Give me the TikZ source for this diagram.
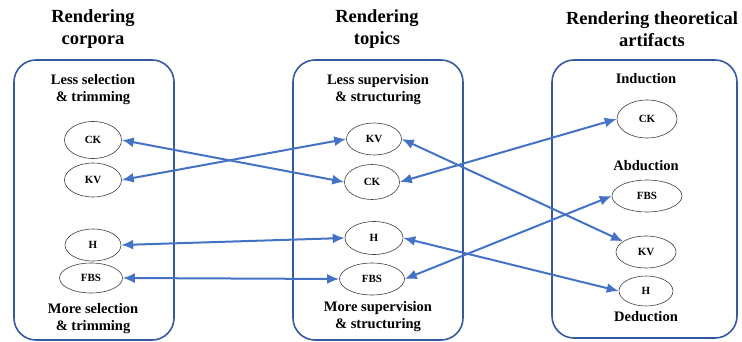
\documentclass[tikz,border=0pt]{standalone}
\usepackage{fontspec}
\setmainfont{Liberation Serif}
\usetikzlibrary{arrows.meta,shapes.geometric}
\definecolor{framecol}{HTML}{3559A0}
\definecolor{linkcol}{HTML}{4472C4}
\tikzset{
  panel/.style={draw=framecol, line width=1.6pt, rounded corners=22pt},
  heading/.style={font=\fontsize{18.5}{21.5}\selectfont\bfseries, align=center, inner sep=0pt},
  band/.style={font=\fontsize{14.5}{17}\selectfont\bfseries, align=center, inner sep=0pt},
  item/.style={ellipse, draw=black!75, line width=0.6pt, fill=white, inner sep=0pt,
               font=\fontsize{11}{13}\selectfont\bfseries},
  link/.style={draw=linkcol, line width=2pt, {Latex[length=12pt,width=10pt]}-{Latex[length=12pt,width=10pt]}}
}
\begin{document}
\begin{tikzpicture}[x=1pt, y=-1pt]
\useasboundingbox (0,0) rectangle (742,342);

% three panels
\draw[panel] (14,60) rectangle (174,340);
\draw[panel] (293,60) rectangle (463,340);
\draw[panel] (552,60) rectangle (737,338);

% panel headings
\node[heading] (t1) at (93,29) {Rendering\\corpora};
\node[heading] (t2) at (377,29) {Rendering\\topics};
\node[heading] (t3) at (652,29) {Rendering theoretical\\artifacts};

% band labels
\node[band] (l1) at (93,90) {Less selection\\\& trimming};
\node[band] (l2) at (93,319) {More selection\\\& trimming};
\node[band] (m1) at (378,90) {Less supervision\\\& structuring};
\node[band] (m2) at (378,317) {More supervision\\\& structuring};
\node[band] (r1) at (646,79) {Induction};
\node[band] (r2) at (646,166) {Abduction};
\node[band] (r3) at (646,317) {Deduction};

% corpora
\node[item, minimum width=57pt, minimum height=37pt] (aCK) at (93,140) {CK};
\node[item, minimum width=57pt, minimum height=34pt] (aKV) at (93,180) {KV};
\node[item, minimum width=56pt, minimum height=32pt] (aH) at (93,245) {H};
\node[item, minimum width=63pt, minimum height=30pt] (aFBS) at (91,278) {FBS};

% topics
\node[item, minimum width=55pt, minimum height=32pt] (bKV) at (374,139) {KV};
\node[item, minimum width=55pt, minimum height=35pt] (bCK) at (372,182) {CK};
\node[item, minimum width=58pt, minimum height=33pt] (bH) at (374,238) {H};
\node[item, minimum width=65pt, minimum height=32pt] (bFBS) at (372,279) {FBS};

% theoretical artifacts
\node[item, minimum width=60pt, minimum height=38pt] (cCK) at (647,119) {CK};
\node[item, minimum width=70pt, minimum height=32pt] (cFBS) at (647,196) {FBS};
\node[item, minimum width=60pt, minimum height=32pt] (cKV) at (646,252) {KV};
\node[item, minimum width=54pt, minimum height=30pt] (cH) at (646,291) {H};

% corpora <-> topics
\draw[link] (aCK.east) -- (bCK.west);
\draw[link] (aKV.east) -- (bKV.west);
\draw[link] (aH.east) -- (bH.west);
\draw[link] (aFBS.east) -- (bFBS.west);

% topics <-> theoretical artifacts
\draw[link] (bKV.east) -- (cKV);
\draw[link] (bCK.east) -- (cCK.west);
\draw[link] (bH.east) -- (cH.west);
\draw[link] (bFBS.east) -- (cFBS.west);
\end{tikzpicture}
\end{document}
